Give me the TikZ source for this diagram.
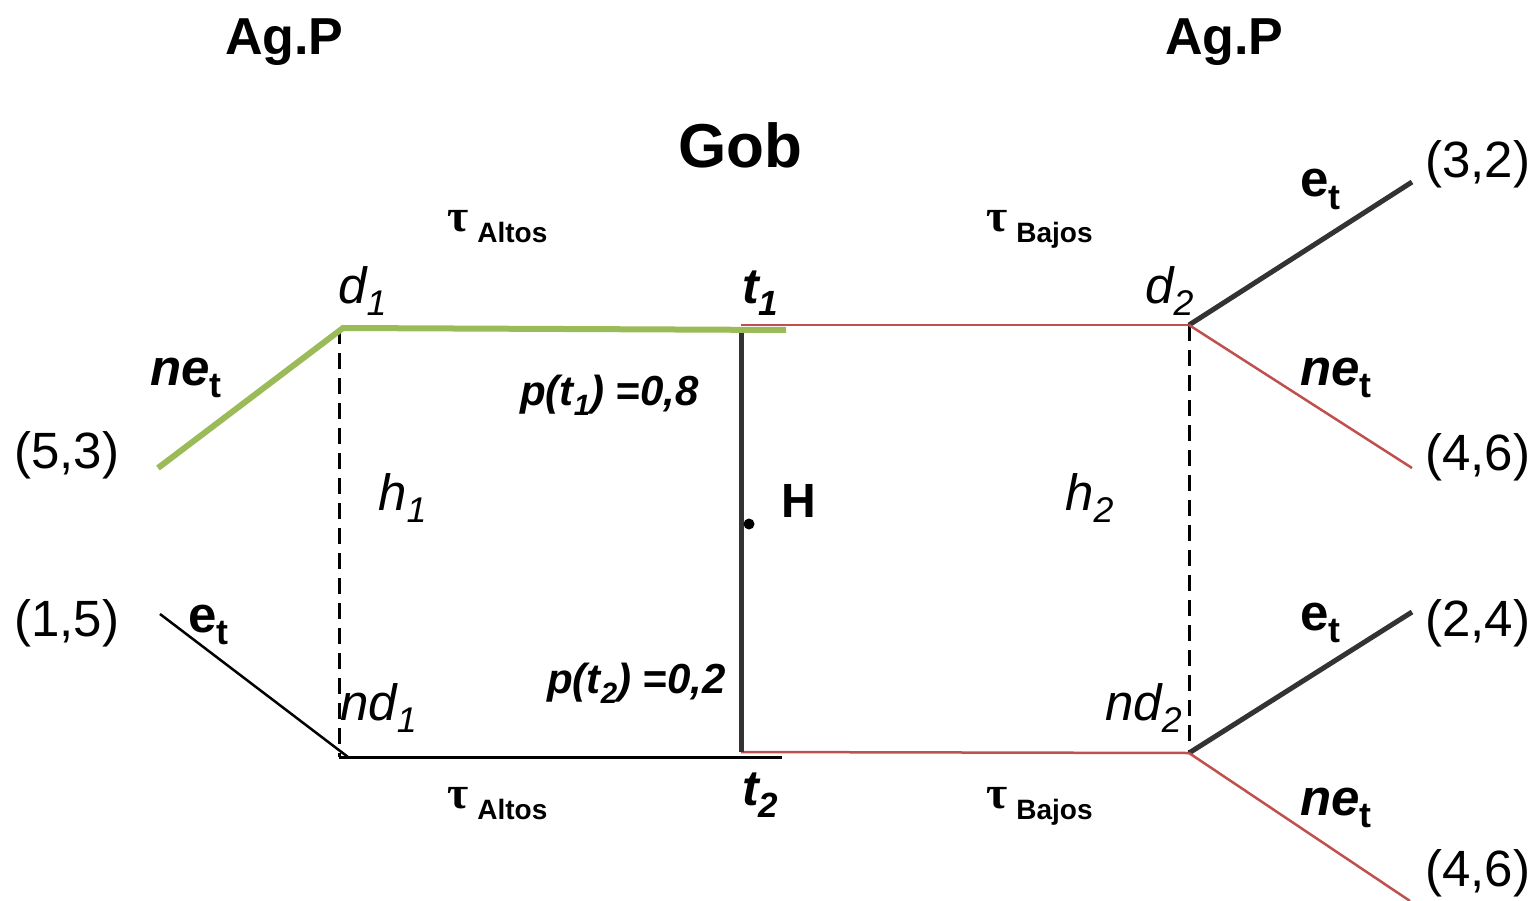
\documentclass[tikz,border=0pt]{standalone}
\usepackage{fontspec}
\setmainfont{Liberation Sans}
\newfontfamily\greekserif{Liberation Serif}
\newcommand\lsub[1]{\raisebox{-0.25em}{\scalebox{0.7}{#1}}}
\newcommand\taulabel[1]{{\greekserif\fontsize{46}{46}\selectfont\bfseries τ}\hspace{9pt}\raisebox{-11pt}{\fontsize{28}{28}\selectfont\bfseries #1}}
\definecolor{gr}{HTML}{9BBB59}
\definecolor{rd}{HTML}{C0504D}
\definecolor{dk}{HTML}{333333}
\begin{document}
\begin{tikzpicture}[x=1pt,y=-1pt,
  lbl/.style={inner sep=0pt, anchor=base west, font=\fontsize{51}{51}\selectfont},
  greenl/.style={draw=gr, line width=6pt},
  redl/.style={draw=rd, line width=2.5pt},
  darkl/.style={draw=dk, line width=5pt},
  blackl/.style={draw=black, line width=2.5pt},
  dashl/.style={draw=black, line width=3pt, dash pattern=on 16pt off 9pt}]
\useasboundingbox (0,0) rectangle (1538,901);
% coordinates
\coordinate (a53) at (158,468);
\coordinate (a15) at (160,614);
\coordinate (d1) at (343,328);
\coordinate (d1top) at (339,328);
\coordinate (g1e) at (786,330);
\coordinate (nd1) at (339,757);
\coordinate (nd1b) at (348,757);
\coordinate (b1e) at (782,757);
\coordinate (t1) at (741,330);
\coordinate (t1r) at (741,325);
\coordinate (t2) at (741,752);
\coordinate (d2) at (1189,325);
\coordinate (nd2) at (1189,753);
\coordinate (e32) at (1412,182);
\coordinate (e46a) at (1412,468);
\coordinate (e24) at (1412,612);
\coordinate (e46b) at (1410,901);
% lines
\draw[dashl] (d1top) -- (nd1);
\draw[dashl] (d2) -- (nd2);
\draw[blackl] (a15) -- (nd1b);
\draw[blackl, line width=3pt] (nd1) -- (b1e);
\draw[redl] (t1r) -- (d2);
\draw[redl] (t2) -- (nd2);
\draw[darkl] (t1) -- (t2);
\draw[greenl] (a53) -- (d1) -- (g1e);
\draw[darkl] (d2) -- (e32);
\draw[redl] (d2) -- (e46a);
\draw[darkl] (nd2) -- (e24);
\draw[redl] (nd2) -- (e46b);
\fill (749,524) circle (5.5pt);
% titles
\node[lbl, font=\fontsize{52}{52}\selectfont\bfseries] (agp1) at (225,55) {Ag.P};
\node[lbl, font=\fontsize{52}{52}\selectfont\bfseries] (agp2) at (1165,55) {Ag.P};
\node[lbl, font=\fontsize{62}{62}\selectfont\bfseries] (gob) at (678,168) {Gob};
% tau labels
\node[lbl] (ta1) at (447,232) {\taulabel{Altos}};
\node[lbl] (tb1) at (986,232) {\taulabel{Bajos}};
\node[lbl] (ta2) at (447,808) {\taulabel{Altos}};
\node[lbl] (tb2) at (986,808) {\taulabel{Bajos}};
% node labels
\node[lbl] (ld1) at (338,303) {\itshape d\lsub{1}};
\node[lbl] (ld2) at (1145,303) {\itshape d\lsub{2}};
\node[lbl, font=\fontsize{50}{50}\selectfont\bfseries\itshape] (lt1) at (742,303) {t\lsub{1}};
\node[lbl, font=\fontsize{50}{50}\selectfont\bfseries\itshape] (lt2) at (742,805) {t\lsub{2}};
\node[lbl] (lh1) at (378,510) {\itshape h\lsub{1}};
\node[lbl] (lh2) at (1065,510) {\itshape h\lsub{2}};
\node[lbl] (lnd1) at (340,720) {\itshape nd\lsub{1}};
\node[lbl] (lnd2) at (1105,720) {\itshape nd\lsub{2}};
\node[lbl, font=\fontsize{42}{42}\selectfont\bfseries\itshape] (p1) at (520,405) {p(t\lsub{1}) =0,8};
\node[lbl, font=\fontsize{42}{42}\selectfont\bfseries\itshape] (p2) at (547,693) {p(t\lsub{2}) =0,2};
\node[lbl, font=\fontsize{48}{48}\selectfont\bfseries] (lH) at (781,517) {H};
% action labels
\node[lbl, font=\fontsize{51}{51}\selectfont\bfseries] (ne1) at (150,385) {\itshape ne\upshape\lsub{t}};
\node[lbl, font=\fontsize{51}{51}\selectfont\bfseries] (el) at (188,632) {e\lsub{t}};
\node[lbl, font=\fontsize{51}{51}\selectfont\bfseries] (e1) at (1300,197) {e\lsub{t}};
\node[lbl, font=\fontsize{51}{51}\selectfont\bfseries] (ne2) at (1300,385) {\itshape ne\upshape\lsub{t}};
\node[lbl, font=\fontsize{51}{51}\selectfont\bfseries] (e2) at (1300,630) {e\lsub{t}};
\node[lbl, font=\fontsize{51}{51}\selectfont\bfseries] (ne3) at (1300,815) {\itshape ne\upshape\lsub{t}};
% payoffs
\node[lbl] (pay53) at (14,468) {(5,3)};
\node[lbl] (pay15) at (14,636) {(1,5)};
\node[lbl] (pay32) at (1425,178) {(3,2)};
\node[lbl] (pay46a) at (1425,470) {(4,6)};
\node[lbl] (pay24) at (1425,636) {(2,4)};
\node[lbl] (pay46b) at (1425,886) {(4,6)};
\end{tikzpicture}
\end{document}
